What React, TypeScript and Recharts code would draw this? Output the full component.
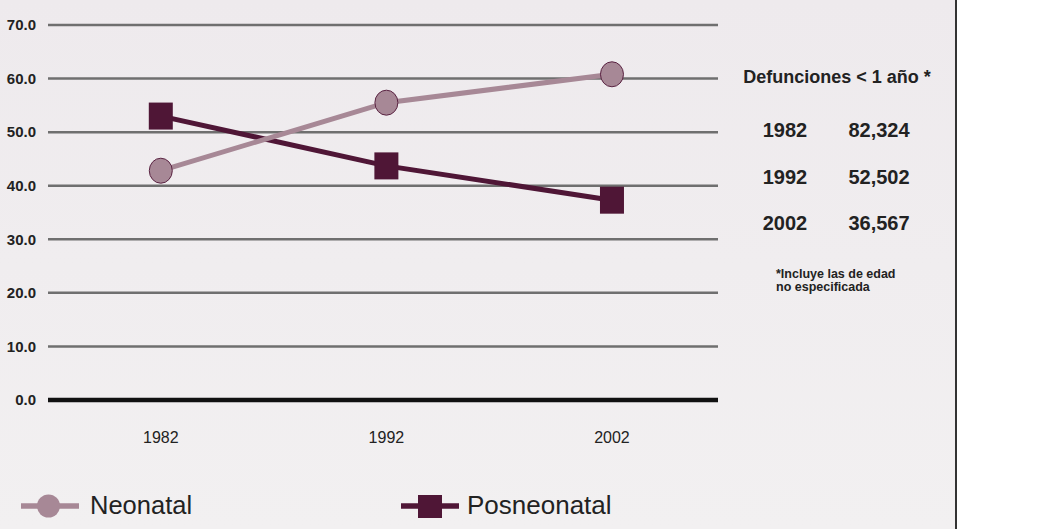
import React from "react";
import { LineChart, Line, XAxis, YAxis, CartesianGrid, ReferenceLine } from "recharts";

const years = [1982, 1992, 2002];
const neonatal = [42.8, 55.5, 60.8];
const posneonatal = [53.0, 43.7, 37.3];
const yTicks = [0, 10, 20, 30, 40, 50, 60, 70];

const tableYears = ["1982", "1992", "2002"];
const tableDeaths = ["82,324", "52,502", "36,567"];

const data = years.map((y, i) => ({ year: y, neonatal: neonatal[i], posneonatal: posneonatal[i] }));

const FONT = '"Liberation Sans", Arial, sans-serif';
const C_NEO = "#a78896";
const C_POS = "#4f1636";

const CircleDot = (props: any) => {
  const { cx, cy } = props;
  if (cx == null || cy == null) return null;
  return <ellipse key={`c${cx}`} cx={cx} cy={cy} rx={11.5} ry={12.5} fill={C_NEO} stroke="#5a2342" strokeWidth={1} />;
};

const SquareDot = (props: any) => {
  const { cx, cy } = props;
  if (cx == null || cy == null) return null;
  return <rect key={`s${cx}`} x={cx - 12} y={cy - 13.5} width={24} height={27} fill={C_POS} />;
};

export default function App() {
  return (
    <div style={{ position: "absolute", left: 0, top: 0, width: 1050, height: 529, background: "#fff", fontFamily: FONT }}>
      <div style={{ position: "absolute", left: 0, top: 0, width: 955, height: 529, background: "linear-gradient(#eeeaed, #f2f0f1)" }} />
      <div style={{ position: "absolute", left: 955, top: 0, width: 2, height: 529, background: "#333" }} />
      <div style={{ position: "absolute", left: 0, top: 0 }}>
        <LineChart width={955} height={529} data={data} margin={{ top: 25, right: 237, left: 0, bottom: 79 }}>
          <CartesianGrid vertical={false} stroke="#6f6f6f" strokeWidth={2.5} />
          <XAxis
            dataKey="year"
            type="number"
            domain={[1977, 2006.7]}
            ticks={years}
            axisLine={false}
            tickLine={false}
            tickSize={0}
            tickMargin={32}
            height={50}
            tick={{ fontSize: 16, fill: "#222", fontFamily: FONT }}
          />
          <YAxis
            domain={[0, 70]}
            ticks={yTicks}
            width={48}
            axisLine={false}
            tickLine={false}
            tickSize={0}
            tickMargin={12}
            tickFormatter={(v: number) => v.toFixed(1)}
            tick={{ fontSize: 15, fontWeight: "bold", fill: "#222", fontFamily: FONT }}
          />
          <ReferenceLine y={0} stroke="#111" strokeWidth={4.5} />
          <Line dataKey="posneonatal" stroke={C_POS} strokeWidth={5} dot={<SquareDot />} activeDot={false} isAnimationActive={false} />
          <Line dataKey="neonatal" stroke={C_NEO} strokeWidth={5} dot={<CircleDot />} activeDot={false} isAnimationActive={false} />
        </LineChart>
      </div>
      <svg style={{ position: "absolute", left: 0, top: 0 }} width={955} height={529}>
        <g fontFamily={FONT} fill="#222" fontWeight="bold">
          <text x={837} y={83} fontSize={18} textAnchor="middle">Defunciones &lt; 1 año *</text>
          {tableYears.map((y, i) => (
            <g key={y}>
              <text x={785} y={137 + i * 46.5} fontSize={20} textAnchor="middle">{y}</text>
              <text x={879} y={137 + i * 46.5} fontSize={20} textAnchor="middle">{tableDeaths[i]}</text>
            </g>
          ))}
          <text x={776} y={278} fontSize={12.5}>*Incluye las de edad</text>
          <text x={776} y={291} fontSize={12.5}>no especificada</text>
        </g>
        <g fontFamily={FONT}>
          <line x1={21} x2={79} y1={506} y2={506} stroke={C_NEO} strokeWidth={5.5} />
          <ellipse cx={48.5} cy={506} rx={11.5} ry={11.5} fill={C_NEO} />
          <text x={90} y={514} fontSize={25.5} fill="#222">Neonatal</text>
          <line x1={401} x2={459} y1={506} y2={506} stroke={C_POS} strokeWidth={5.5} />
          <rect x={418} y={495} width={24} height={23} fill={C_POS} />
          <text x={467} y={514} fontSize={26} fill="#222">Posneonatal</text>
        </g>
      </svg>
    </div>
  );
}
